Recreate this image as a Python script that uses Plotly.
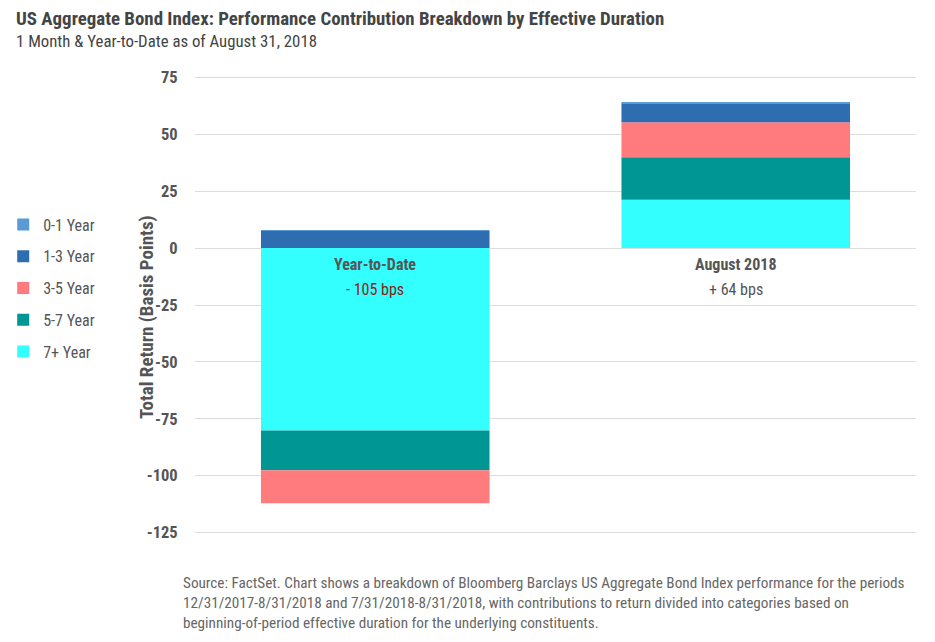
import plotly.graph_objects as go

categories = ["Year-to-Date", "August 2018"]
series_names = ["0-1 Year", "1-3 Year", "3-5 Year", "5-7 Year", "7+ Year"]
v_0_1 = [0.3, 0.3]
v_1_3 = [7.6, 8.2]
v_3_5 = [-14.5, 15.4]
v_5_7 = [-17.5, 18.7]
v_7p = [-80.1, 21.2]
totals_text = ["- 105 bps", "+ 64 bps"]
total_colors = ["#8B1A1A", "#555555"]
colors = ["#5B9BD5", "#2E6DB0", "#FF7B7E", "#009694", "#33FFFF"]
yticks = [-125, -100, -75, -50, -25, 0, 25, 50, 75]

FONT = "Roboto Condensed, Liberation Sans Narrow, Roboto, sans-serif"

fig = go.Figure()
# stacking order: 7+ at base, then 5-7, 3-5, 1-3, 0-1 on top
stack = [("7+ Year", v_7p, colors[4]), ("5-7 Year", v_5_7, colors[3]),
         ("3-5 Year", v_3_5, colors[2]), ("1-3 Year", v_1_3, colors[1]),
         ("0-1 Year", v_0_1, colors[0])]
legend_rank = {n: i for i, n in enumerate(series_names)}
for name, vals, col in stack:
    fig.add_trace(go.Bar(x=categories, y=vals, name=name, marker_color=col,
                         marker_line_width=0, legendgroup=name,
                         legendrank=legend_rank[name]))

for cat, t, c in zip(categories, totals_text, total_colors):
    fig.add_annotation(x=cat, y=0, text="<b>" + cat + "</b>", showarrow=False,
                       yshift=-16, font=dict(family=FONT, size=16, color="#555555"))
    fig.add_annotation(x=cat, y=0, text=t, showarrow=False, yshift=-41,
                       font=dict(family=FONT, size=16, color=c))

fig.add_annotation(xref="paper", yref="paper", x=-0.251, y=1.0, yshift=61,
                   xanchor="left", yanchor="top", showarrow=False, align="left",
                   text="<b>US Aggregate Bond Index: Performance Contribution Breakdown by Effective Duration</b>",
                   font=dict(family=FONT, size=18.9, color="#444444"))
fig.add_annotation(xref="paper", yref="paper", x=-0.251, y=1.0, yshift=37,
                   xanchor="left", yanchor="top", showarrow=False, align="left",
                   text="1 Month & Year-to-Date as of August 31, 2018",
                   font=dict(family=FONT, size=16.8, color="#444444"))
fig.add_annotation(xref="paper", yref="paper", x=-0.019, y=0, yshift=-28,
                   xanchor="left", yanchor="top", showarrow=False, align="left",
                   text=("Source: FactSet. Chart shows a breakdown of Bloomberg Barclays US Aggregate Bond Index performance for the periods<br>"
                         "12/31/2017-8/31/2018 and 7/31/2018-8/31/2018, with contributions to return divided into categories based on<br>"
                         "beginning-of-period effective duration for the underlying constituents."),
                   font=dict(family=FONT, size=15.2, color="#666666"))
# y-axis title
fig.add_annotation(xref="paper", yref="paper", x=-0.0666, y=0.475,
                   xanchor="center", yanchor="middle", showarrow=False, textangle=-90,
                   text="<b>Total Return (Basis Points)</b>",
                   font=dict(family=FONT, size=19, color="#555555"))

fig.update_layout(
    width=935, height=642,
    barmode="relative", bargap=0.366,
    plot_bgcolor="white", paper_bgcolor="white",
    margin=dict(l=187, r=27, t=58, b=106, autoexpand=False),
    font=dict(family=FONT, color="#555555"),
    showlegend=True,
    legend=dict(x=-0.266, y=0.704, xanchor="left", yanchor="top",
                traceorder="grouped", tracegroupgap=8,
                font=dict(family=FONT, size=16, color="#555555"),
                itemwidth=30),
    xaxis=dict(showticklabels=False, showgrid=False, zeroline=False, showline=False),
    yaxis=dict(range=[-130, 80], tickvals=yticks, ticktext=[f"<b>{v}</b>" for v in yticks],
               showgrid=True, gridcolor="#DDDDDD", gridwidth=1, zeroline=False,
               ticks="outside", ticklen=13, tickcolor="rgba(0,0,0,0)",
               tickfont=dict(family=FONT, size=16.5, color="#555555")),
)

fig.write_html("out.html")
